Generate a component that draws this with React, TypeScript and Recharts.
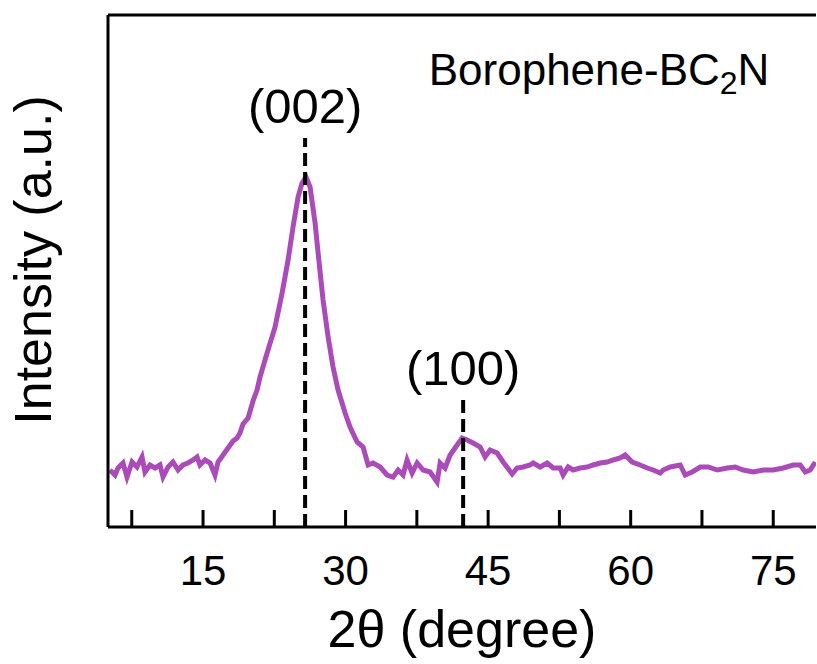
import { LineChart, Line, XAxis, YAxis, ReferenceLine, ReferenceDot, Label } from 'recharts'

// XRD pattern (2θ in degrees, intensity in arbitrary units)
const twoTheta = [
  5.21, 5.74, 6.05, 6.58, 7.0, 7.53, 8.05, 8.58, 8.89, 9.42, 9.95, 10.47, 10.79, 11.32, 11.84,
  12.37, 12.89, 13.42, 13.95, 14.37, 14.68, 15.21, 15.74, 16.26, 16.58, 17.11, 17.63, 18.16, 18.58,
  18.89, 19.21, 19.74, 20.26, 20.68, 21.0, 21.74, 22.58, 23.32, 23.95, 24.47, 25.0, 25.42, 25.84,
  26.26, 26.79, 27.11, 27.63, 28.16, 28.68, 29.21, 29.95, 30.47, 31.21, 31.84, 32.37, 32.89, 33.63,
  34.37, 35.0, 35.53, 36.05, 36.47, 37.0, 37.53, 38.16, 38.89, 39.63, 39.95, 40.47, 41.0, 41.74,
  42.26, 42.79, 43.42, 44.16, 44.68, 45.21, 45.95, 46.58, 47.53, 48.05, 48.68, 49.42, 49.74, 50.47,
  51.21, 51.84, 52.58, 52.89, 53.42, 53.95, 54.68, 55.42, 56.05, 56.79, 57.53, 58.16, 58.89, 59.42,
  60.16, 61.0, 61.74, 62.37, 63.11, 63.42, 64.16, 65.21, 65.74, 66.47, 67.32, 68.16, 69.11, 70.16,
  71.0, 71.84, 72.89, 73.95, 75.0, 76.05, 77.11, 77.84, 78.37, 78.89, 79.42,
]
const intensity = [
  57, 52, 59, 64, 50, 65, 60, 70, 55, 62, 59, 62, 50, 60, 65,
  57, 62, 64, 67, 70, 62, 67, 64, 52, 65, 72, 79, 86, 89,
  94, 103, 109, 126, 137, 150, 174, 200, 234, 267, 300, 330, 344, 350,
  340, 304, 274, 227, 190, 160, 137, 114, 100, 85, 80, 62, 64, 60,
  52, 50, 57, 52, 67, 54, 64, 57, 55, 45, 64, 59, 72, 82,
  89, 87, 84, 80, 70, 77, 74, 65, 53, 59, 60, 62, 64, 60,
  64, 59, 59, 52, 60, 57, 59, 60, 62, 64, 65, 67, 69, 72,
  65, 62, 59, 57, 54, 57, 60, 62, 52, 55, 60, 60, 57, 59,
  60, 57, 55, 57, 57, 59, 62, 62, 55, 57, 65,
]

const xTicks = [7.5, 15, 22.5, 30, 37.5, 45, 52.5, 60, 67.5, 75]
const peakNames = ['(002)', '(100)']
const peakPositions = [25.74, 42.37]
const peakMarkerTops = [389, 127]

const data = twoTheta.map((x, i) => ({ x, y: intensity[i] }))

const FONT = '"Liberation Sans", Arial, sans-serif'

const XTick = (props: any) => {
  const { x, y, payload } = props
  return (
    <g>
      <line x1={x} x2={x} y1={y} y2={y - 17} stroke="#000" strokeWidth={3} />
      {payload.value % 15 === 0 && (
        <text x={x} y={y + 58} textAnchor="middle" fontSize={42} fill="#000" fontFamily={FONT}>
          {payload.value}
        </text>
      )}
    </g>
  )
}

export default function App() {
  return (
    <div style={{ width: 817, height: 664 }}>
      <style>{'body { margin: 0; }'}</style>
      <LineChart width={817} height={664} data={data} margin={{ top: 15, right: 1, bottom: 0, left: 0 }}>
        <XAxis
          type="number"
          dataKey="x"
          domain={[5, 79.5]}
          allowDataOverflow
          ticks={xTicks}
          interval={0}
          tick={<XTick />}
          tickLine={false}
          tickSize={0}
          tickMargin={0}
          height={137}
          axisLine={{ stroke: '#000', strokeWidth: 3 }}
        >
          <Label
            content={(p: any) => (
              <text
                x={p.viewBox.x + p.viewBox.width / 2}
                y={p.viewBox.y + 120}
                textAnchor="middle"
                fontSize={52}
                fill="#000"
                fontFamily={FONT}
              >
                2θ (degree)
              </text>
            )}
          />
        </XAxis>
        <YAxis
          type="number"
          domain={[0, 512]}
          allowDataOverflow
          tick={false}
          tickLine={false}
          width={108}
          axisLine={{ stroke: '#000', strokeWidth: 3 }}
        >
          <Label
            content={() => (
              <text
                x={51}
                y={260}
                transform="rotate(-90, 51, 260)"
                textAnchor="middle"
                fontSize={52}
                fill="#000"
                fontFamily={FONT}
              >
                Intensity (a.u.)
              </text>
            )}
          />
        </YAxis>
        <ReferenceLine y={512} stroke="#000" strokeWidth={3} />
        <Line type="linear" dataKey="y" stroke="#AB4BBA" strokeWidth={5} dot={false} isAnimationActive={false} />
        {peakPositions.map((px, i) => (
          <ReferenceLine
            key={'l' + i}
            segment={[{ x: px, y: 0 }, { x: px, y: peakMarkerTops[i] }]}
            stroke="#000"
            strokeWidth={4}
            strokeDasharray="13 6"
          />
        ))}
        {peakPositions.map((px, i) => (
          <ReferenceDot
            key={'d' + i}
            x={px}
            y={peakMarkerTops[i]}
            r={0}
            fill="none"
            stroke="none"
            label={{ value: peakNames[i], position: 'top', offset: 15, fontSize: 49, fill: '#000', fontFamily: FONT }}
          />
        ))}
        <ReferenceDot
          x={38.75}
          y={442}
          r={0}
          fill="none"
          stroke="none"
          label={{
            content: (p: any) => (
              <text x={p.viewBox.x} y={p.viewBox.y} fontSize={44} fill="#000" fontFamily={FONT}>
                Borophene-BC
                <tspan fontSize={32} dy={9}>2</tspan>
                <tspan dy={-9}>N</tspan>
              </text>
            ),
          }}
        />
      </LineChart>
    </div>
  )
}
